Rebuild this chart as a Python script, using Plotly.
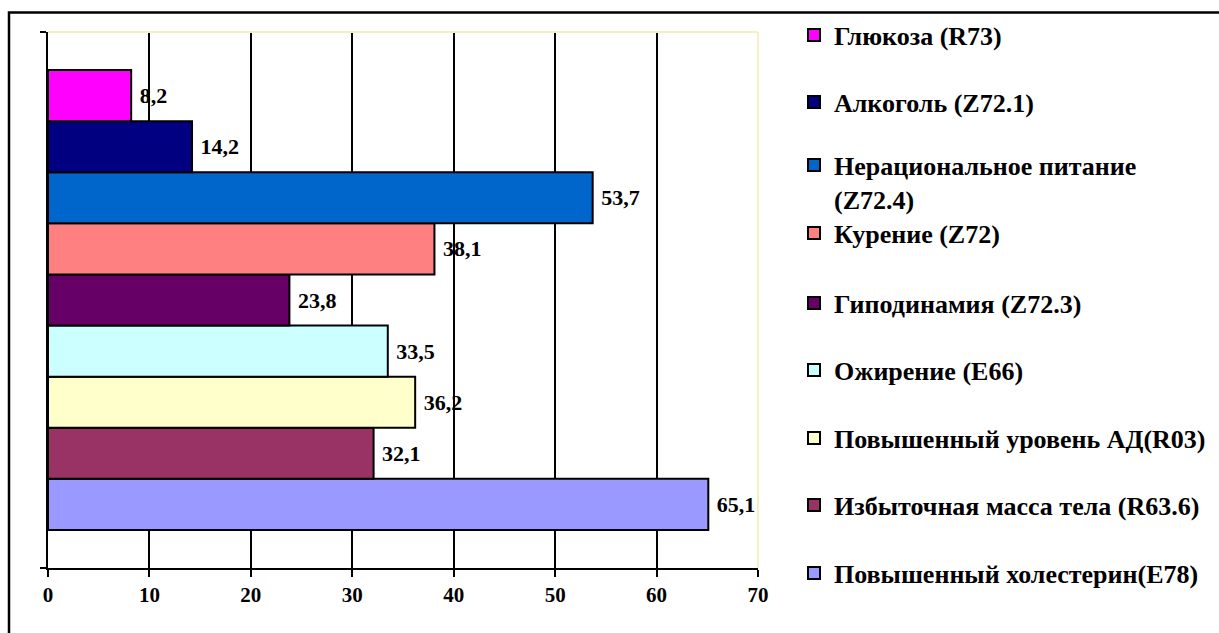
import plotly.graph_objects as go

# Risk factors, listed bottom-to-top in the chart
factors = [
    "Повышенный холестерин(E78)",
    "Избыточная масса тела (R63.6)",
    "Повышенный уровень АД(R03)",
    "Ожирение (E66)",
    "Гиподинамия (Z72.3)",
    "Курение (Z72)",
    "Нерациональное питание<br>(Z72.4)",
    "Алкоголь (Z72.1)",
    "Глюкоза (R73)",
]
values = [65.1, 32.1, 36.2, 33.5, 23.8, 38.1, 53.7, 14.2, 8.2]
colors = ["#9999FF", "#993366", "#FFFFCC", "#CCFFFF", "#660066",
          "#FF8080", "#0066CC", "#000080", "#FF00FF"]
x_ticks = [0, 10, 20, 30, 40, 50, 60, 70]

W, H = 1219, 633
L, R, T, B = 48, 758, 32, 568          # plot area in pixels
FONT = "Liberation Serif, Times New Roman, serif"

def px_x(p):
    return (p - L) / (R - L)

def px_y(p):
    return (B - p) / (B - T)

# vertical centre of each legend entry (pixels), same order as factors
legend_centres = [573, 505, 438, 370, 303, 233, 182, 102, 35]

fig = go.Figure()
for i, (name, val, col) in enumerate(zip(factors, values, colors)):
    lg = "legend" if i == 0 else f"legend{i + 1}"
    fig.add_trace(go.Bar(
        x=[val], y=["Факторы риска"], orientation="h", name=name,
        marker=dict(color=col, line=dict(color="black", width=2)),
        texttemplate=" %{x:.1f}", textposition="outside",
        textfont=dict(family=FONT, size=22, color="black", weight="bold"),
        cliponaxis=False, legend=lg, hoverinfo="x+name",
    ))

legend_cfg = {}
for i, yc in enumerate(legend_centres):
    key = "legend" if i == 0 else f"legend{i + 1}"
    legend_cfg[key] = dict(
        x=px_x(794), xanchor="left",
        y=px_y(yc), yanchor="middle",
        bgcolor="rgba(0,0,0,0)", borderwidth=0,
        font=dict(family=FONT, size=26, color="black", weight="bold"),
        valign="top", itemwidth=30,
    )

shapes = [
    # outer frame of the chart object
    dict(type="rect", xref="paper", yref="paper",
         x0=px_x(9), x1=px_x(1240), y0=px_y(660), y1=px_y(12.5),
         line=dict(color="black", width=2.5), fillcolor="rgba(0,0,0,0)",
         layer="below"),
    # light plot-area border on top and right
    dict(type="line", xref="paper", yref="paper",
         x0=0, x1=1, y0=1, y1=1,
         line=dict(color="#F2F0C4", width=2), layer="above"),
    dict(type="line", xref="paper", yref="paper",
         x0=1, x1=1, y0=0, y1=1,
         line=dict(color="#F2F0C4", width=2), layer="above"),
]

fig.update_layout(
    width=W, height=H,
    margin=dict(l=L, r=W - R, t=T, b=H - B, pad=0, autoexpand=False),
    paper_bgcolor="white", plot_bgcolor="white",
    barmode="group", bargap=0.142, bargroupgap=0,
    separators=", ",
    showlegend=True,
    font=dict(family=FONT, size=20, color="black"),
    shapes=shapes,
    xaxis=dict(
        range=[0, 70], tickvals=x_ticks,
        showgrid=True, gridcolor="black", gridwidth=2,
        showline=True, linecolor="black", linewidth=2,
        ticks="outside", ticklen=7, tickwidth=2, tickcolor="black",
        tickfont=dict(family=FONT, size=21, color="black", weight="bold"),
        zeroline=False, fixedrange=True,
    ),
    yaxis=dict(
        showticklabels=False, showgrid=False, zeroline=False,
        showline=True, linecolor="black", linewidth=2,
        ticks="outside", tickson="boundaries", ticklen=6, tickwidth=2,
        tickcolor="black", fixedrange=True,
    ),
    **legend_cfg,
)

fig.write_html("out.html")
